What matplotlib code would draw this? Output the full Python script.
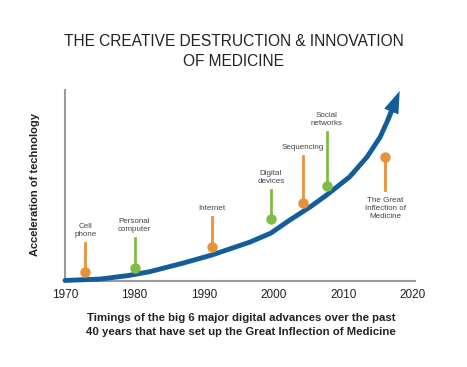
import matplotlib
matplotlib.use("Agg")
import matplotlib.pyplot as plt

# Curve
curve_years = [1970, 1975.0, 1979.0, 1982.2, 1987.0, 1991.1, 1996.6, 1999.6, 2002.3, 2005.2, 2007.6, 2010.9, 2013.4, 2015.3, 2016.4, 2018.1]
curve_vals = [0.3, 1.0, 2.8, 4.9, 9.4, 13.6, 20.4, 25.1, 31.9, 38.7, 45.0, 54.5, 64.9, 75.4, 84.3, 99.5]

# Events
labels = ["Cell\nphone", "Personal\ncomputer", "Internet", "Digital\ndevices",
          "Sequencing", "Social\nnetworks", "The Great\nInflection of\nMedicine"]
years = [1972.9, 1980, 1991.1, 1999.6, 2004.2, 2007.6, 2016]
dot_vals = [4.7, 6.8, 17.8, 32.5, 40.8, 49.7, 65]
stem_end = [20, 22.5, 33.5, 47.6, 65.4, 78, 47.6]
kinds = ["o", "g", "o", "g", "o", "g", "o"]

xticks = [1970, 1980, 1990, 2000, 2010, 2020]

ORANGE = "#e8913a"
GREEN = "#80bc45"
BLUE = "#135e9a"

plt.rcParams['font.family'] = ['Liberation Sans', 'DejaVu Sans']

fig = plt.figure(figsize=(4.67, 3.67), dpi=100)
ax = fig.add_axes([65/467, 1-281/367, 350/467, 191/367])
ax.set_xlim(1970, 2020.3)
ax.set_ylim(0, 100)

for s in ["top", "right"]:
    ax.spines[s].set_visible(False)
for s in ["left", "bottom"]:
    ax.spines[s].set_color("#9a9a9a")
    ax.spines[s].set_linewidth(1.5)

ax.set_xticks(xticks)
ax.set_xticklabels([str(t) for t in xticks], fontsize=8.5, color="#222222")
ax.tick_params(axis="x", length=0, pad=6)
ax.set_yticks([])

# Curve
ax.plot(curve_years[:-1], curve_vals[:-1], color=BLUE, lw=3.5,
        solid_capstyle="round", solid_joinstyle="round", clip_on=False, zorder=3)
ax.annotate("", xy=(curve_years[-1], curve_vals[-1]),
            xytext=(curve_years[-2], curve_vals[-2]),
            arrowprops=dict(arrowstyle="simple,tail_width=0.18,head_width=0.55,head_length=0.8",
                            mutation_scale=20, fc=BLUE, ec="none", lw=0,
                            shrinkA=0, shrinkB=0),
            annotation_clip=False, zorder=3)

# Events
for lab, yr, dv, se, k in zip(labels, years, dot_vals, stem_end, kinds):
    c = ORANGE if k == "o" else GREEN
    ax.plot([yr, yr], [dv, se], color=c, lw=2, zorder=4)
    ax.plot(yr, dv, "o", color=c, ms=6.5, zorder=5)
    if se > dv:
        ax.text(yr, se + 2.5, lab, ha="center", va="bottom", fontsize=5.8,
                color="#444444", linespacing=1.25)
    else:
        ax.text(yr, se - 3.5, lab, ha="center", va="top", fontsize=5.8,
                color="#444444", linespacing=1.25)

fig.text(0.5, 1-42/367, "THE CREATIVE DESTRUCTION & INNOVATION", ha="center",
         va="center", fontsize=11.2, color="#222222")
fig.text(0.5, 1-62/367, "OF MEDICINE", ha="center", va="center",
         fontsize=11.2, color="#222222")

fig.text(35/467, 1-185/367, "Acceleration of technology", rotation=90,
         ha="center", va="center", fontsize=8, fontweight="bold", color="#222222")

fig.text(241/467, 1-318/367, "Timings of the big 6 major digital advances over the past",
         ha="center", va="center", fontsize=8.2, fontweight="bold", color="#222222")
fig.text(241/467, 1-332/367, "40 years that have set up the Great Inflection of Medicine",
         ha="center", va="center", fontsize=8.2, fontweight="bold", color="#222222")

fig.savefig("out.png", dpi=100, facecolor="white")
